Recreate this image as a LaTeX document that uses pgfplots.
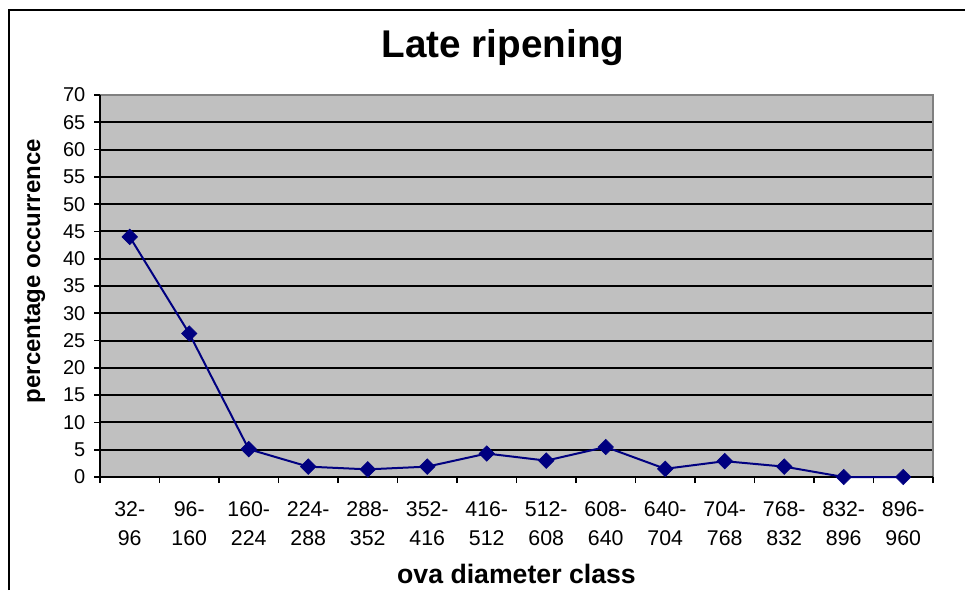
\documentclass[border=0pt]{standalone}
\usepackage{fontspec}
\setmainfont{Liberation Sans}
\usepackage{pgfplots}
\pgfplotsset{compat=1.18}
\definecolor{navyline}{RGB}{0,0,128}
\definecolor{plotgray}{RGB}{192,192,192}
\definecolor{bordergray}{RGB}{128,128,128}
\begin{document}
\begin{tikzpicture}[x=0.75pt,y=0.75pt]
\useasboundingbox (0,0) rectangle (965,590);
\draw[line width=1.5pt] (9,0) -- (9,580) -- (966,580);
\node[anchor=base,font=\fontsize{29}{33}\selectfont\bfseries] at (503,532) {Late ripening};
\begin{axis}[
  at={(75pt,84.75pt)}, anchor=south west,
  scale only axis, width=624.75pt, height=286.5pt,
  xmin=0, xmax=14, ymin=0, ymax=70,
  clip=false,
  axis background/.style={fill=plotgray},
  axis line style={draw=none},
  ytick={0,5,...,70},
  ymajorgrids, grid style={black, line width=1.5pt},
  xtick={0,...,14}, xticklabels={},
  extra x ticks={0.5,1.5,...,13.5},
  extra x tick labels={{32-\\96},{96-\\160},{160-\\224},{224-\\288},{288-\\352},{352-\\416},{416-\\512},{512-\\608},{608-\\640},{640-\\704},{704-\\768},{768-\\832},{832-\\896},{896-\\960}},
  extra x tick style={major tick length=0pt, grid=none},
  xtick pos=bottom, ytick pos=left,
  tick align=outside,
  tick style={black, line width=1.2pt},
  major tick length=4.5pt,
  /pgf/number format/assume math mode=true,
  yticklabel style={font=\fontsize{15}{18}\selectfont, xshift=-3pt},
  xticklabel style={font=\fontsize{16}{21.75}\selectfont, align=center, yshift=-15pt},
  xlabel={ova diameter class},
  xlabel style={at={(axis description cs:0.5,-0.2775)}, anchor=base, font=\fontsize{20}{24}\selectfont\bfseries},
  ylabel={percentage occurrence},
  ylabel style={at={(axis description cs:-0.072,0.539)}, anchor=base, font=\fontsize{18}{22}\selectfont\bfseries},
]
\draw[bordergray, line width=1.5pt] (rel axis cs:0,1) -- (rel axis cs:1,1) -- (rel axis cs:1,0);
\draw[black, line width=1.5pt] (rel axis cs:0,1) -- (rel axis cs:0,0) -- (rel axis cs:1,0);
\addplot[navyline, line width=1.5pt, mark=square*, mark size=4.1pt, mark options={rotate=45, fill=navyline, draw=navyline, line width=0.5pt}]
coordinates {(0.5,44.0) (1.5,26.3) (2.5,5.1) (3.5,1.9) (4.5,1.4) (5.5,1.9) (6.5,4.3) (7.5,3.0) (8.5,5.5) (9.5,1.5) (10.5,2.9) (11.5,1.9) (12.5,0) (13.5,0)};
\end{axis}
\end{tikzpicture}
\end{document}
